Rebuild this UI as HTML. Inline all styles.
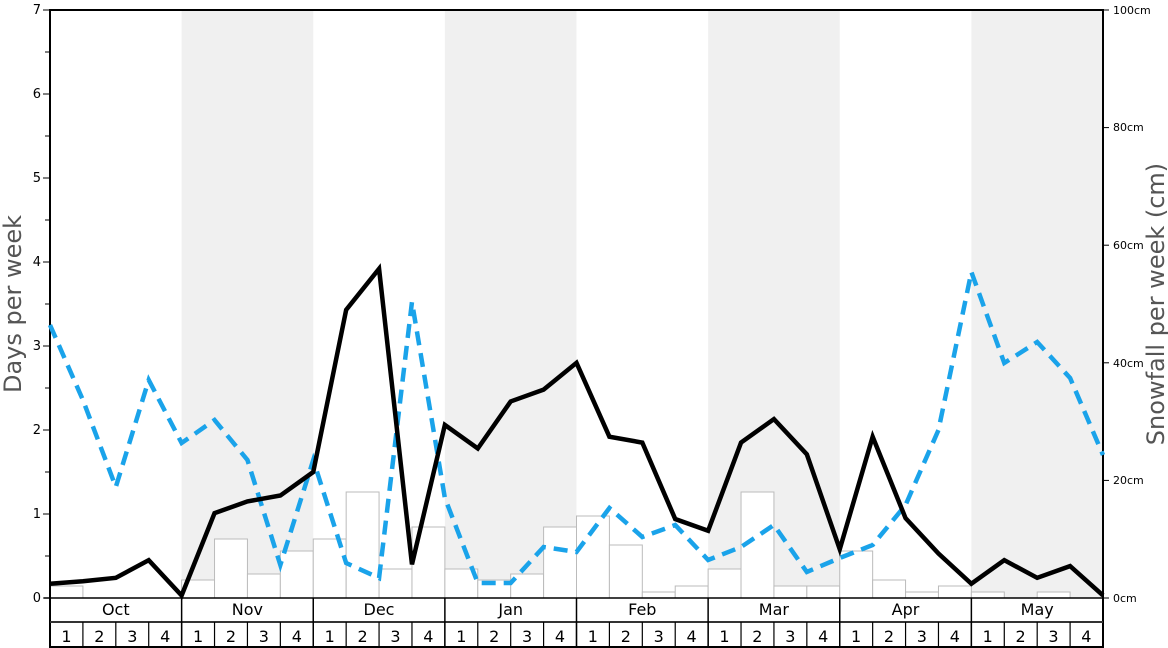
<!DOCTYPE html>
<html><head><meta charset="utf-8"><style>
body{margin:0;background:#fff;width:1168px;height:648px;overflow:hidden}
svg{display:block;font-family:"DejaVu Sans","Liberation Sans",sans-serif}
</style></head><body>
<svg id="s" width="1168" height="648" viewBox="0 0 1168 648">
<g id="bg"></g>
<g id="bars"></g>
<g id="grid"></g>
<g font-size="13" fill="#000" text-anchor="end">
<text x="41" y="602">0</text><text x="41" y="518">1</text><text x="41" y="434">2</text><text x="41" y="350">3</text><text x="41" y="266">4</text><text x="41" y="182">5</text><text x="41" y="98">6</text><text x="41" y="14">7</text>
</g>
<g font-size="11" fill="#000">
<text x="1113" y="602">0cm</text><text x="1113" y="484">20cm</text><text x="1113" y="367">40cm</text><text x="1113" y="249">60cm</text><text x="1113" y="131">80cm</text><text x="1113" y="14">100cm</text>
</g>
<text transform="translate(21,304) rotate(-90)" font-size="24" fill="#555" text-anchor="middle">Days per week</text>
<text transform="translate(1164,304) rotate(-90)" font-size="24" fill="#555" text-anchor="middle">Snowfall per week (cm)</text>
<g font-size="16" text-anchor="middle" fill="#000">
<text x="115.8" y="615">Oct</text><text x="247.4" y="615">Nov</text><text x="379" y="615">Dec</text><text x="510.7" y="615">Jan</text><text x="642.3" y="615">Feb</text><text x="773.9" y="615">Mar</text><text x="905.5" y="615">Apr</text><text x="1037.2" y="615">May</text>
</g>
<g font-size="16" text-anchor="middle" fill="#000">
<text x="66.5" y="642">1</text><text x="99.4" y="642">2</text><text x="132.3" y="642">3</text><text x="165.2" y="642">4</text>
<text x="198.1" y="642">1</text><text x="231" y="642">2</text><text x="263.9" y="642">3</text><text x="296.8" y="642">4</text>
<text x="329.7" y="642">1</text><text x="362.6" y="642">2</text><text x="395.5" y="642">3</text><text x="428.4" y="642">4</text>
<text x="461.3" y="642">1</text><text x="494.2" y="642">2</text><text x="527.1" y="642">3</text><text x="560" y="642">4</text>
<text x="592.9" y="642">1</text><text x="625.8" y="642">2</text><text x="658.7" y="642">3</text><text x="691.6" y="642">4</text>
<text x="724.5" y="642">1</text><text x="757.4" y="642">2</text><text x="790.3" y="642">3</text><text x="823.2" y="642">4</text>
<text x="856.1" y="642">1</text><text x="889" y="642">2</text><text x="921.9" y="642">3</text><text x="954.8" y="642">4</text>
<text x="987.7" y="642">1</text><text x="1020.6" y="642">2</text><text x="1053.5" y="642">3</text><text x="1086.4" y="642">4</text>
</g>
<g id="lines"></g>
</svg>
<script>
const NS="http://www.w3.org/2000/svg",W=1053/32,X0=50;
function el(p,t,a){const e=document.createElementNS(NS,t);for(const k in a)e.setAttribute(k,a[k]);document.getElementById(p).appendChild(e);return e;}
[1,3,5,7].forEach(m=>el("bg","rect",{x:X0+m*4*W,y:10,width:4*W,height:588,fill:"#f0f0f0"}));
const bars=[586,598,598,598,580,539,574,551,539,492,569,527,569,580,574,527,516,545,592,586,569,492,586,586,551,580,592,586,592,598,592,598];
bars.forEach((t,i)=>{if(t<598)el("bars","rect",{x:X0+i*W,y:t,width:W,height:598-t,fill:"#fff",stroke:"#bbb","stroke-width":1});});
// axes
el("grid","line",{x1:50,y1:10,x2:50,y2:648,stroke:"#000","stroke-width":2});
el("grid","line",{x1:1103,y1:10,x2:1103,y2:648,stroke:"#000","stroke-width":2});
el("grid","line",{x1:49,y1:10,x2:1104,y2:10,stroke:"#000","stroke-width":2});
el("grid","line",{x1:44,y1:598,x2:1103,y2:598,stroke:"#000","stroke-width":1.5});
el("grid","line",{x1:50,y1:622,x2:1103,y2:622,stroke:"#333","stroke-width":2});
el("grid","line",{x1:50,y1:647,x2:1103,y2:647,stroke:"#000","stroke-width":2});
for(let i=0;i<=14;i++){const y=598-i*42;el("grid","line",{x1:i%2?45:43,y1:y,x2:50,y2:y,stroke:"#000","stroke-width":1});}
for(let i=0;i<=5;i++){const y=598-i*117.6;el("grid","line",{x1:1103,y1:y,x2:1109,y2:y,stroke:"#000","stroke-width":1});}
for(let m=1;m<8;m++){const x=X0+m*4*W;el("grid","line",{x1:x,y1:598,x2:x,y2:648,stroke:"#000","stroke-width":1.5});}
for(let i=1;i<32;i++){const x=X0+i*W;el("grid","line",{x1:x,y1:622,x2:x,y2:648,stroke:"#000","stroke-width":1.2});}
const blue=[325,400,487,380,443,420,460,565,460,563,578,302,498,583,583,547,552,508,537,525,560,547,525,572,558,545,505,430,272,363,342,378,455];
const blk=[0.17,0.2,0.24,0.45,0.03,1.01,1.15,1.22,1.5,3.43,3.92,0.4,2.06,1.78,2.34,2.48,2.8,1.92,1.85,0.94,0.8,1.85,2.13,1.71,0.58,1.92,0.95,0.53,0.17,0.45,0.24,0.38,0.03];
el("lines","polyline",{points:blue.map((y,i)=>(X0+i*W)+","+y).join(" "),fill:"none",stroke:"#1aa3ea","stroke-width":4.5,"stroke-dasharray":"14,8"});
el("lines","polyline",{points:blk.map((v,i)=>(X0+i*W)+","+(598-v*84)).join(" "),fill:"none",stroke:"#000","stroke-width":4.5,"stroke-linejoin":"miter"});
</script>
</body></html>
